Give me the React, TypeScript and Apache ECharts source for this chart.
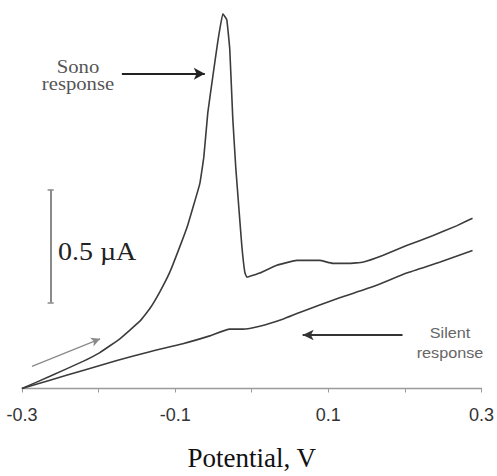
import React, { useEffect, useRef } from "react";
import * as echarts from "echarts";

// Potential (V) and current (µA)
const sonoPotential = [
  -0.3, -0.2635, -0.2204, -0.1983, -0.1722, -0.1461, -0.133, -0.12, -0.107, -0.0939,
  -0.0835, -0.0678, -0.0626, -0.0574, -0.0509, -0.0443, -0.0378, -0.0326, -0.0287,
  -0.0248, -0.0209, -0.017, -0.013, -0.0091, -0.0065, 0.0104, 0.0326, 0.0587, 0.0887,
  0.1057, 0.1278, 0.1448, 0.1709, 0.2022, 0.2361, 0.2674, 0.2883,
];
const sonoCurrent = [
  0, 0.054, 0.12, 0.159, 0.22, 0.298, 0.354, 0.428, 0.515, 0.628,
  0.724, 0.907, 1.024, 1.22, 1.38, 1.537, 1.659, 1.633, 1.502,
  1.198, 0.98, 0.807, 0.633, 0.515, 0.493, 0.511, 0.546, 0.567, 0.567,
  0.554, 0.554, 0.559, 0.589, 0.633, 0.676, 0.72, 0.754,
];
const silentPotential = [
  -0.3, -0.2635, -0.2204, -0.1761, -0.133, -0.09, -0.0548, -0.0287, -0.0117, 0.0104,
  0.0404, 0.0626, 0.1148, 0.1578, 0.2022, 0.2452, 0.2883,
];
const silentCurrent = [
  0, 0.037, 0.08, 0.124, 0.163, 0.198, 0.233, 0.263, 0.263, 0.276,
  0.307, 0.337, 0.402, 0.45, 0.511, 0.559, 0.611,
];
const xTicks = [-0.3, -0.1, 0.1, 0.3];

// annotation anchors in data units
const sonoArrow = [[-0.1696, 1.393], [-0.0613, 1.393]];
const silentArrow = [[0.1969, 0.237], [0.0665, 0.237]];
const sweepArrow = [[-0.287, 0.098], [-0.198, 0.22]];
const scaleBarX = -0.2626;
const scaleBarY = [0.38, 0.88];
const scaleCapHalf = 0.004;

const zip = (a: number[], b: number[]) => a.map((v, i) => [v, b[i]]);

export default function App() {
  const ref = useRef<HTMLDivElement>(null);
  useEffect(() => {
    if (!ref.current) return;
    const chart = echarts.init(ref.current, undefined, { renderer: "svg" });
    const serif = "'Liberation Serif', 'Times New Roman', serif";
    const sans = "'Liberation Sans', Arial, sans-serif";
    const seg = (a: number[], b: number[], color: string, width: number, endSymbol = "none", size: number[] = [8, 10]) => [
      { coord: a, symbol: "none", lineStyle: { color, width, type: "solid" } },
      { coord: b, symbol: endSymbol, symbolSize: size },
    ];
    const txt = (x: number, y: number, text: string, family: string, size: number, fill: string, scaleX: number, align = "center") => ({
      type: "text",
      x,
      y,
      scaleX,
      silent: true,
      style: { text, fontFamily: family, fontSize: size, fill, align, verticalAlign: "middle" },
    });
    const barColor = "#8a8a8a";
    chart.setOption({
      animation: false,
      backgroundColor: "#ffffff",
      grid: { left: 22, right: 15, top: 4.5, bottom: 80.5 },
      xAxis: {
        type: "value",
        min: -0.3,
        max: 0.3,
        interval: 0.1,
        name: "Potential, V",
        nameLocation: "middle",
        nameGap: 69,
        nameTextStyle: { fontFamily: serif, fontSize: 27, color: "#111", verticalAlign: "middle" },
        axisLine: { lineStyle: { color: "#9a9a9a", width: 1.3 } },
        axisTick: { length: 4, lineStyle: { color: "#9a9a9a" } },
        splitLine: { show: false },
        axisLabel: {
          fontFamily: sans,
          fontSize: 18,
          color: "#333",
          margin: 17,
          formatter: (v: number) => {
            const hit = xTicks.find((t) => Math.abs(t - v) < 1e-6);
            return hit === undefined ? "" : hit.toFixed(1);
          },
        },
      },
      yAxis: { type: "value", min: 0, max: 1.7, show: false, splitLine: { show: false } },
      series: [
        {
          type: "line",
          name: "Sono response",
          data: zip(sonoPotential, sonoCurrent),
          showSymbol: false,
          smooth: 0.08,
          lineStyle: { color: "#3c3c3c", width: 1.6 },
          silent: true,
        },
        {
          type: "line",
          name: "Silent response",
          data: zip(silentPotential, silentCurrent),
          showSymbol: false,
          smooth: 0.15,
          lineStyle: { color: "#3c3c3c", width: 1.6 },
          silent: true,
        },
        {
          type: "line",
          data: [],
          silent: true,
          markLine: {
            silent: true,
            animation: false,
            label: { show: false },
            emphasis: { disabled: true },
            data: [
              seg(sonoArrow[0], sonoArrow[1], "#222", 2, "arrow", [9, 11]),
              seg(silentArrow[0], silentArrow[1], "#333", 2, "arrow", [8, 11]),
              seg(sweepArrow[0], sweepArrow[1], "#8a8a8a", 1.3, "arrow", [7, 9]),
              seg([scaleBarX, scaleBarY[0]], [scaleBarX, scaleBarY[1]], barColor, 2),
              seg([scaleBarX - scaleCapHalf, scaleBarY[0]], [scaleBarX + scaleCapHalf, scaleBarY[0]], barColor, 1.5),
              seg([scaleBarX - scaleCapHalf, scaleBarY[1]], [scaleBarX + scaleCapHalf, scaleBarY[1]], barColor, 1.5),
            ],
          },
        },
      ],
      graphic: [
        txt(78, 67, "Sono", serif, 18, "#555", 1.15),
        txt(78, 84, "response", serif, 18, "#555", 1.15),
        txt(450, 333, "Silent", sans, 15, "#666", 1.08),
        txt(450, 353, "response", sans, 15, "#666", 1.08),
        txt(58, 252, "0.5 µA", serif, 25, "#222", 1.12, "left"),
      ],
    });
    return () => chart.dispose();
  }, []);
  return (
    <div
      ref={ref}
      style={{ position: "absolute", left: 0, top: 0, width: 497, height: 476, background: "#fff" }}
    />
  );
}
